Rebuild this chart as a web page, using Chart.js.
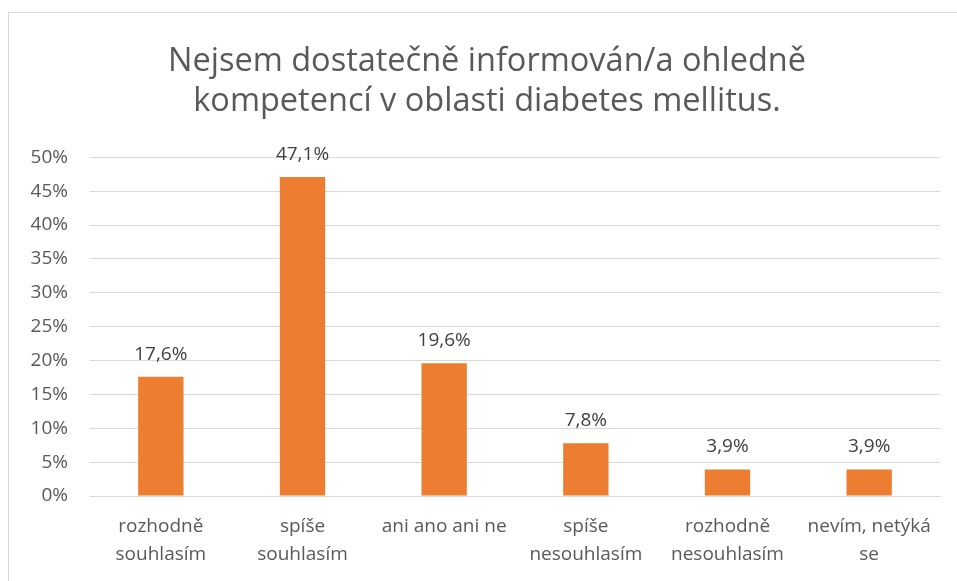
<!DOCTYPE html>
<html><head><meta charset="utf-8">
<script src="https://cdn.jsdelivr.net/npm/chart.js@4"></script>
<style>
html,body{margin:0;padding:0;background:#fff;}
#wrap{position:absolute;left:0;top:0;width:957px;height:581px;}
#frame{position:absolute;left:8px;top:12px;width:960px;height:580px;border:1px solid #d9d9d9;box-sizing:border-box;}
canvas{position:absolute;left:0;top:0;}
</style></head>
<body>
<div id="wrap"><div id="frame"></div><canvas id="c" width="957" height="581"></canvas></div>
<script>
const categories = [["rozhodně","souhlasím"],["spíše","souhlasím"],"ani ano ani ne",["spíše","nesouhlasím"],["rozhodně","nesouhlasím"],["nevím, netýká","se"]];
const values = [17.6, 47.1, 19.6, 7.8, 3.9, 3.9];
const titleLines = ["Nejsem dostatečně informován/a ohledně","kompetencí v oblasti diabetes mellitus."];
const FONT = "'Open Sans', sans-serif";

const labelPlugin = {
  id: 'barLabels',
  afterLayout(chart){
    const t = chart.titleBlock;
    if (t) { t.left = 34; t.right = 940; }
  },
  afterDatasetsDraw(chart){
    const ctx = chart.ctx;
    const meta = chart.getDatasetMeta(0);
    ctx.save();
    ctx.font = "19px " + FONT;
    ctx.fillStyle = "#404040";
    ctx.textAlign = "center";
    ctx.textBaseline = "bottom";
    meta.data.forEach((bar,i)=>{
      ctx.fillText(values[i].toFixed(1).replace('.',',') + '%', bar.x, bar.y - 13);
    });
    ctx.restore();
  }
};

new Chart(document.getElementById('c'), {
  type: 'bar',
  data: { labels: categories, datasets: [{ data: values, backgroundColor: '#ED7D31', barPercentage: 0.8, categoryPercentage: 0.4 }] },
  options: {
    responsive: false, animation: false,
    layout: { padding: { left: 0, right: 17, top: 0, bottom: 0 } },
    plugins: {
      legend: { display: false }, tooltip: { enabled: false },
      title: { display: true, text: titleLines, color: '#595959', font: { family: FONT, size: 32.5, weight: 'normal', lineHeight: 1.25 }, padding: { top: 41, bottom: 35 } }
    },
    scales: {
      y: {
        min: 0, max: 50,
        ticks: { stepSize: 5, color: '#595959', font: { family: FONT, size: 19 }, padding: 22, callback: v => v + '%' },
        grid: { color: '#d9d9d9', drawTicks: false },
        border: { display: false },
        afterFit(s){ s.width = 90; }
      },
      x: {
        ticks: { color: '#595959', font: { family: FONT, size: 19, lineHeight: 1.45 }, padding: 17, maxRotation: 0, autoSkip: false },
        grid: { display: false, drawTicks: false },
        border: { display: true, color: '#d9d9d9' },
        afterFit(s){ s.height = 85; }
      }
    }
  },
  plugins: [labelPlugin]
});
</script>
</body></html>
